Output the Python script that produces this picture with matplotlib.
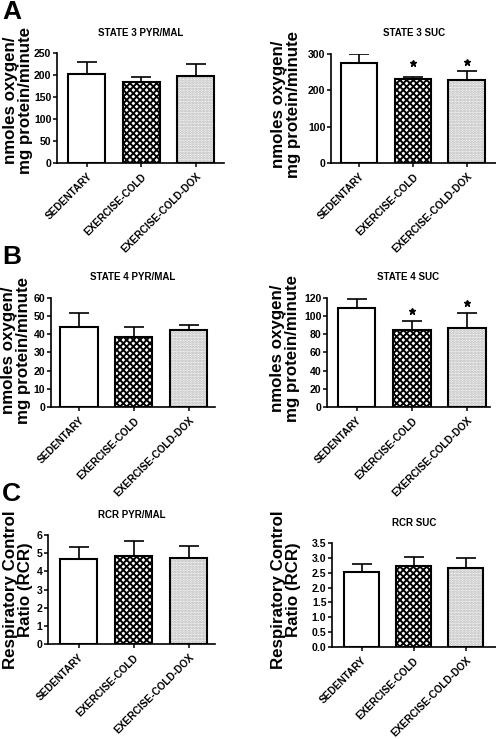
import matplotlib
matplotlib.use("Agg")
import matplotlib.pyplot as plt

plt.rcParams['font.family'] = ['Liberation Sans', 'DejaVu Sans']
plt.rcParams['font.weight'] = 'bold'
plt.rcParams['hatch.linewidth'] = 1.4

# Data
groups = ['SEDENTARY', 'EXERCISE-COLD', 'EXERCISE-COLD-DOX']

state3_pm = [202, 183, 198]
state3_pm_err = [27, 12, 26]
state3_suc = [274, 230, 229]
state3_suc_err = [26, 8, 23]
state3_suc_stars = [None, 276, 278]

state4_pm = [44, 38.5, 42.3]
state4_pm_err = [8, 5.7, 3]
state4_suc = [109, 84.8, 87.3]
state4_suc_err = [10, 10, 16]
state4_suc_stars = [None, 105.5, 114.5]

rcr_pm = [4.68, 4.84, 4.71]
rcr_pm_err = [0.65, 0.84, 0.71]
rcr_suc = [2.51, 2.74, 2.66]
rcr_suc_err = [0.3, 0.3, 0.34]

W, H = 496, 739
fig = plt.figure(figsize=(W / 100, H / 100), dpi=100)


def px_axes(x0, y0, x1, y1):
    # pixel box (left, top, right, bottom) -> figure axes
    return fig.add_axes([x0 / W, 1 - y1 / H, (x1 - x0) / W, (y1 - y0) / H])


fills = [dict(color='white', hatch=None),
         dict(color='black', hatch='xxxxx'),
         dict(color='#b0b0b0', hatch='......')]


def panel(box, xlim, vals, errs, ylim, yticks, title, title_y, stars=None, fmt=None):
    ax = px_axes(*box)
    x = list(range(len(groups)))
    for i in x:
        f = fills[i]
        if f['hatch']:
            ax.bar(i, vals[i], width=0.68, facecolor='white', edgecolor=f['color'],
                   hatch=f['hatch'], linewidth=0, zorder=2)
        ax.bar(i, vals[i], width=0.68, fill=False, edgecolor='black',
               linewidth=1.5, zorder=3)
    ax.errorbar(x, vals, yerr=[[0] * 3, errs], fmt='none', ecolor='black',
                elinewidth=1.2, capsize=7.5, capthick=1.2, zorder=1)
    if stars:
        for i, s in enumerate(stars):
            if s is not None:
                ax.plot(i, s, marker='*', color='black', markersize=5)
    ax.set_xlim(*xlim)
    ax.set_ylim(*ylim)
    ax.set_yticks(yticks)
    if fmt:
        ax.set_yticklabels([fmt % t for t in yticks])
    ax.set_xticks(x)
    ax.set_xticklabels(groups, rotation=45, ha='right', rotation_mode='anchor',
                       fontsize=7.3, fontweight='bold')
    ax.tick_params(axis='y', labelsize=7.6, length=3, width=1.1, pad=1)
    ax.tick_params(axis='x', length=3, width=1.1, pad=3)
    for lab in ax.get_yticklabels():
        lab.set_fontweight('bold')
    for side in ['top', 'right']:
        ax.spines[side].set_visible(False)
    for side in ['left', 'bottom']:
        ax.spines[side].set_linewidth(1.2)
    cx = (box[0] + box[2]) / 2
    fig.text(cx / W, 1 - title_y / H, title, ha='center', va='center',
             fontsize=7, fontweight='bold')
    return ax


panel((57, 53, 224, 163), (-0.55, 2.52), state3_pm, state3_pm_err, (0, 250),
      [0, 50, 100, 150, 200, 250], 'STATE 3 PYR/MAL', 33)
panel((331, 54, 497, 163), (-0.52, 2.56), state3_suc, state3_suc_err, (0, 300),
      [0, 100, 200, 300], 'STATE 3 SUC', 33, stars=state3_suc_stars)
panel((51, 298, 215, 407), (-0.51, 2.48), state4_pm, state4_pm_err, (0, 60),
      [0, 10, 20, 30, 40, 50, 60], 'STATE 4 PYR/MAL', 277)
panel((327, 298, 490, 407), (-0.54, 2.42), state4_suc, state4_suc_err, (0, 120),
      [0, 20, 40, 60, 80, 100, 120], 'STATE 4 SUC', 277, stars=state4_suc_stars)
panel((48, 535, 215, 644), (-0.56, 2.48), rcr_pm, rcr_pm_err, (0, 6),
      [0, 1, 2, 3, 4, 5, 6], 'RCR PYR/MAL', 515)
panel((332, 543, 497, 647), (-0.57, 2.6), rcr_suc, rcr_suc_err, (0, 3.5),
      [0, 0.5, 1.0, 1.5, 2.0, 2.5, 3.0, 3.5], 'RCR SUC', 523, fmt='%.1f')

# y labels
ylab = 'nmoles oxygen/\nmg protein/minute'
rlab = 'Respiratory Control\nRatio (RCR)'
for (x, y, t) in [(18, 100, ylab), (286, 104, ylab), (16.5, 350, ylab),
                  (285, 348, ylab), (18, 590, rlab), (286, 590, rlab)]:
    fig.text(x / W, 1 - y / H, t, rotation=90, ha='center', va='center',
             fontsize=12.2, fontweight='bold', linespacing=1.0, multialignment='center')

# panel letters
for (x, y, t) in [(2, 12, 'A'), (2, 257, 'B'), (2, 494, 'C')]:
    fig.text(x / W, 1 - y / H, t, ha='left', va='center', fontsize=19, fontweight='bold')

plt.savefig('out.png', dpi=100)
